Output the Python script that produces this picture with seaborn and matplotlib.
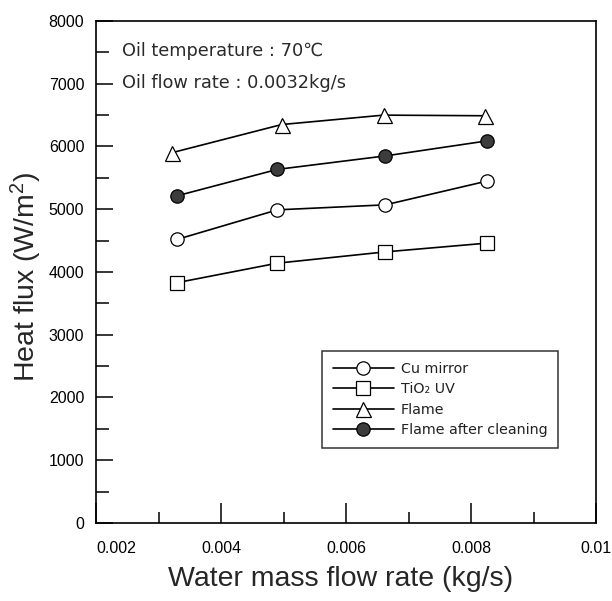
import matplotlib
matplotlib.use("Agg")
import matplotlib.pyplot as plt
from matplotlib.ticker import MultipleLocator, FixedLocator, FixedFormatter
import seaborn as sns

# Water mass flow rate (kg/s) for each surface series
water_flow = [0.00330, 0.00490, 0.00663, 0.00826]
water_flow_flame = [0.00321, 0.00497, 0.00660, 0.00822]

# Heat flux (W/m^2)
cu_mirror = [4520, 4990, 5070, 5450]
tio2_uv = [3830, 4140, 4320, 4460]
flame = [5900, 6350, 6500, 6490]
flame_cleaned = [5215, 5635, 5850, 6090]

series_labels = ["Cu mirror", "TiO\u2082 UV", "Flame", "Flame after cleaning"]
x_tick_values = [0.002, 0.004, 0.006, 0.008, 0.010]
x_tick_labels = ["0.002", "0.004", "0.006", "0.008", "0.01"]
conditions = ["Oil temperature : 70\u2103", "Oil flow rate : 0.0032kg/s"]

sns.set_style("white")
plt.rcParams["font.family"] = ["Liberation Sans", "DejaVu Sans"]
plt.rcParams["mathtext.fontset"] = "custom"
plt.rcParams["mathtext.rm"] = "Liberation Sans"
plt.rcParams["mathtext.it"] = "Liberation Sans:italic"
plt.rcParams["mathtext.bf"] = "Liberation Sans:bold"

fig = plt.figure(figsize=(6.12, 6.01), dpi=100)
ax = fig.add_axes([0.157, 0.130, 0.817, 0.835])

common = dict(color="black", linewidth=1.2, markeredgecolor="black",
              markeredgewidth=0.9, ax=ax, errorbar=None)
sns.lineplot(x=water_flow, y=cu_mirror, marker="o", markersize=9.6,
             markerfacecolor="white", label=series_labels[0], **common)
sns.lineplot(x=water_flow, y=tio2_uv, marker="s", markersize=9.6,
             markerfacecolor="white", label=series_labels[1], **common)
sns.lineplot(x=water_flow_flame, y=flame, marker="^", markersize=10.8,
             markerfacecolor="white", label=series_labels[2], **common)
sns.lineplot(x=water_flow, y=flame_cleaned, marker="o", markersize=9.6,
             markerfacecolor="#3c3c3c", label=series_labels[3], **common)

ax.set_xlim(0.002, 0.010)
ax.set_ylim(0, 8000)

ax.xaxis.set_major_locator(FixedLocator(x_tick_values))
ax.xaxis.set_major_formatter(FixedFormatter(x_tick_labels))
ax.xaxis.set_minor_locator(MultipleLocator(0.001))
ax.yaxis.set_major_locator(MultipleLocator(1000))
ax.yaxis.set_minor_locator(MultipleLocator(500))

ax.tick_params(axis="both", which="both", direction="in", color="black",
               width=1.1, labelsize=11.5, labelcolor="black",
               bottom=True, left=True, top=False, right=False)
ax.tick_params(axis="x", which="major", length=14.4, pad=13)
ax.tick_params(axis="x", which="minor", length=8)
ax.tick_params(axis="y", which="major", length=12.2, pad=8.5)
ax.tick_params(axis="y", which="minor", length=9.4)
ax.get_xticklabels()[0].set_horizontalalignment("left")

for side in ["left", "right", "top", "bottom"]:
    ax.spines[side].set_visible(True)
    ax.spines[side].set_color("black")
    ax.spines[side].set_linewidth(1.2)

ax.set_xlabel("Water mass flow rate (kg/s)", fontsize=20.5)
ax.set_ylabel("Heat flux (W/m$^{2}$)", fontsize=20.5)
ax.xaxis.set_label_coords(0.488, -0.086)
ax.yaxis.set_label_coords(-0.104, 0.49)

for txt, yy in zip(conditions, [0.930, 0.867]):
    ax.text(0.052, yy, txt, transform=ax.transAxes, ha="left", va="baseline",
            fontsize=12.8, color="#2a2a2a", family=["DejaVu Sans"])

leg = ax.legend(loc="lower right", bbox_to_anchor=(0.924, 0.149),
                borderaxespad=0, frameon=True, fancybox=False, shadow=False,
                handlelength=4.26, handletextpad=0.5, labelspacing=0.45,
                borderpad=0.75, prop={"family": "DejaVu Sans", "size": 10.3})
leg.get_frame().set_edgecolor("black")
leg.get_frame().set_linewidth(1.1)
for t in leg.get_texts():
    t.set_color("#222222")

fig.savefig("out.png", dpi=100, facecolor="white")
